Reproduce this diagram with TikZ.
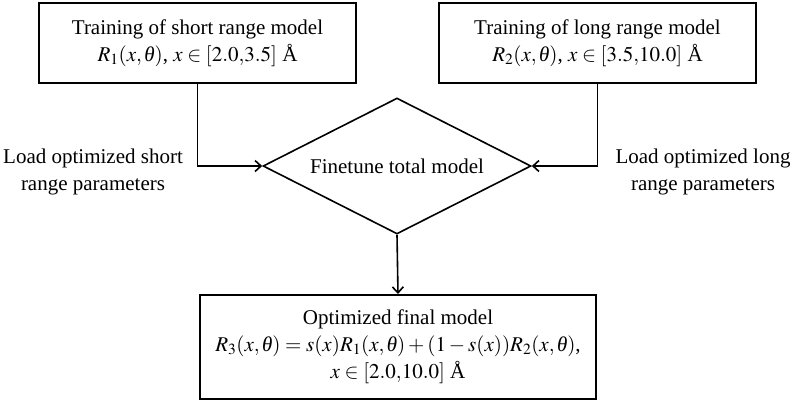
\documentclass[tikz,border=0pt]{standalone}
\usepackage{mathptmx}
\usepackage[no-math]{fontspec}
\setmainfont{Liberation Serif}
\usetikzlibrary{shapes.geometric,arrows.meta}
% italic theta taken from the text face
\newcommand{\angvar}{\mbox{\itshape θ}}
\begin{document}
\begin{tikzpicture}[x=1pt,y=-1pt,
  every node/.style={font=\fontsize{21}{27}\selectfont, align=center, inner sep=0pt},
  box/.style={draw, line width=2pt, minimum width=317pt, minimum height=80pt},
  decision/.style={draw, diamond, aspect=2, line width=1.6pt,
    minimum width=268pt, minimum height=136pt},
  conn/.style={line width=1.6pt, -{Straight Barb[length=6pt,width=11pt,line width=1.6pt]}}]
\useasboundingbox (0,0) rectangle (793,402);

% training stages
\node[box] (short) at (197.5,43)
  {Training of short range model\\$R_1(x,\angvar)$, $x\in[2.0{,}3.5]$ Å};
\node[box] (long) at (597.5,43)
  {Training of long range model\\$R_2(x,\angvar)$, $x\in[3.5{,}10.0]$ Å};

% joint fine-tuning
\node[decision] (tune) at (397,166) {Finetune total model};

% combined model
\node[box, minimum width=396pt, minimum height=104pt] (final) at (398,347)
  {Optimized final model\\
   $R_3(x,\angvar)=s(x)R_1(x,\angvar)+(1-s(x))R_2(x,\angvar)$,\\
   $x\in[2.0{,}10.0]$ Å};

% side labels
\node (shortlbl) at (93,172) {Load optimized short\\range parameters};
\node (longlbl) at (703,172) {Load optimized long\\range parameters};

% connectors
\draw[conn] (short.south) |- (tune.west);
\draw[conn] (long.south) |- (tune.east);
\draw[conn] (tune.south) -- (final.north);
\end{tikzpicture}
\end{document}
